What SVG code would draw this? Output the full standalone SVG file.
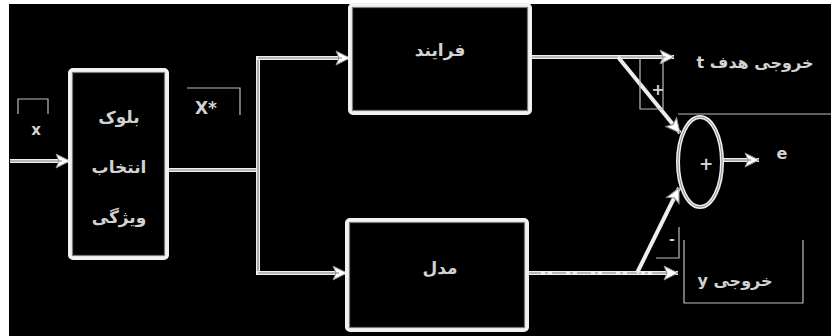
<svg xmlns="http://www.w3.org/2000/svg" width="831" height="336" viewBox="0 0 831 336">
<defs>
<style>
.box{fill:#000;stroke:#f2f2f2;stroke-width:4}
.boxin{fill:none;stroke:#7a7a7a;stroke-width:1.2}
.w{fill:none;stroke:#eeeeee;stroke-width:4}
.g{fill:none;stroke:#808080;stroke-width:1.2}
.thin{fill:none;stroke:#bdbdbd;stroke-width:1.2}
.t{font-family:"DejaVu Sans",sans-serif;fill:#d2d2d2;text-anchor:middle;font-weight:bold}
</style>
<marker id="ah" markerUnits="userSpaceOnUse" markerWidth="18" markerHeight="18" viewBox="0 0 18 18" refX="16" refY="9" orient="auto">
<polygon points="2,2 16,9 2,16 5,9" fill="#ffffff" stroke="#8a8a8a" stroke-width="1"/>
</marker>
</defs>
<rect x="0" y="0" width="831" height="336" fill="#ffffff"/>
<rect x="9" y="4" width="822" height="332" fill="#000000"/>

<g id="connectors">
<line class="w" x1="10" y1="161" x2="70" y2="161" marker-end="url(#ah)"/>
<line class="g" x1="10" y1="161" x2="62" y2="161"/>
<line class="w" x1="167" y1="170" x2="258" y2="170"/>
<line class="g" x1="167" y1="170" x2="258" y2="170"/>
<line class="w" x1="258" y1="57" x2="258" y2="272"/>
<line class="g" x1="258" y1="57" x2="258" y2="272"/>
<line class="w" x1="256" y1="58" x2="350" y2="58" marker-end="url(#ah)"/>
<line class="g" x1="258" y1="58" x2="342" y2="58"/>
<line class="w" x1="256" y1="273" x2="347" y2="273" marker-end="url(#ah)"/>
<line class="g" x1="258" y1="273" x2="339" y2="273"/>
<line class="w" x1="530" y1="57" x2="674" y2="57" marker-end="url(#ah)"/>
<line class="g" x1="530" y1="57" x2="666" y2="57"/>
<line class="w" x1="527" y1="273" x2="678" y2="273" marker-end="url(#ah)"/>
<line class="g" x1="527" y1="273" x2="670" y2="273" stroke-dasharray="14,4,3,4"/>
<line class="w" x1="618" y1="57" x2="680" y2="133" stroke-width="3" marker-end="url(#ah)"/>
<line class="w" x1="637" y1="273" x2="679" y2="188" stroke-width="3" marker-end="url(#ah)"/>
<line class="w" x1="722" y1="160" x2="759" y2="160" marker-end="url(#ah)"/>
<line class="g" x1="722" y1="160" x2="751" y2="160"/>
</g>

<g id="feature-block">
<rect class="box" x="70" y="70" width="97" height="188" rx="3"/>
<rect class="boxin" x="72.5" y="72.5" width="92" height="183"/>
<text class="t" x="119" y="123" font-size="17">بلوک</text>
<text class="t" x="119" y="173" font-size="17">انتخاب</text>
<text class="t" x="119" y="223" font-size="17">ویژگی</text>
</g>

<g id="process">
<rect class="box" x="350" y="5" width="180" height="108" rx="3"/>
<rect class="boxin" x="352.5" y="7.5" width="175" height="103"/>
<text class="t" x="440" y="56" font-size="17">فرایند</text>
</g>

<g id="model">
<rect class="box" x="347" y="220" width="180" height="110" rx="3"/>
<rect class="boxin" x="349.5" y="222.5" width="175" height="105"/>
<text class="t" x="440" y="274" font-size="17">مدل</text>
</g>

<g id="sum">
<ellipse cx="700" cy="162" rx="22" ry="45" fill="#000" stroke="#eeeeee" stroke-width="4"/>
<ellipse cx="700" cy="162" rx="22" ry="45" fill="none" stroke="#8a8a8a" stroke-width="1"/>
<text class="t" x="706" y="170" font-size="17">+</text>
</g>

<g id="label-x">
<path class="thin" d="M18,114 V99 H48 V114"/>
<text class="t" x="36" y="135" font-size="15">x</text>
</g>

<g id="label-xstar">
<path class="thin" d="M187,88 H240 V115"/>
<text class="t" x="206" y="114" font-size="17">X*</text>
</g>

<g id="label-plus">
<path class="thin" d="M640,58 V109 H663 V58"/>
<text class="t" x="658" y="95" font-size="16">+</text>
</g>

<g id="label-minus">
<path class="thin" d="M656,258 H679 V227"/>
<text class="t" x="672" y="244" font-size="14">-</text>
</g>

<g id="target-out">
<line class="thin" x1="678" y1="114" x2="831" y2="114"/>
<text class="t" x="755" y="68" font-size="16" direction="rtl">خروجی هدف t</text>
</g>

<g id="y-out">
<path class="thin" d="M684,240 V303 H803 V240"/>
<text class="t" x="735" y="286" font-size="16" direction="rtl">خروجی y</text>
</g>

<g id="e-out">
<text class="t" x="782" y="159" font-size="16">e</text>
</g>
</svg>
